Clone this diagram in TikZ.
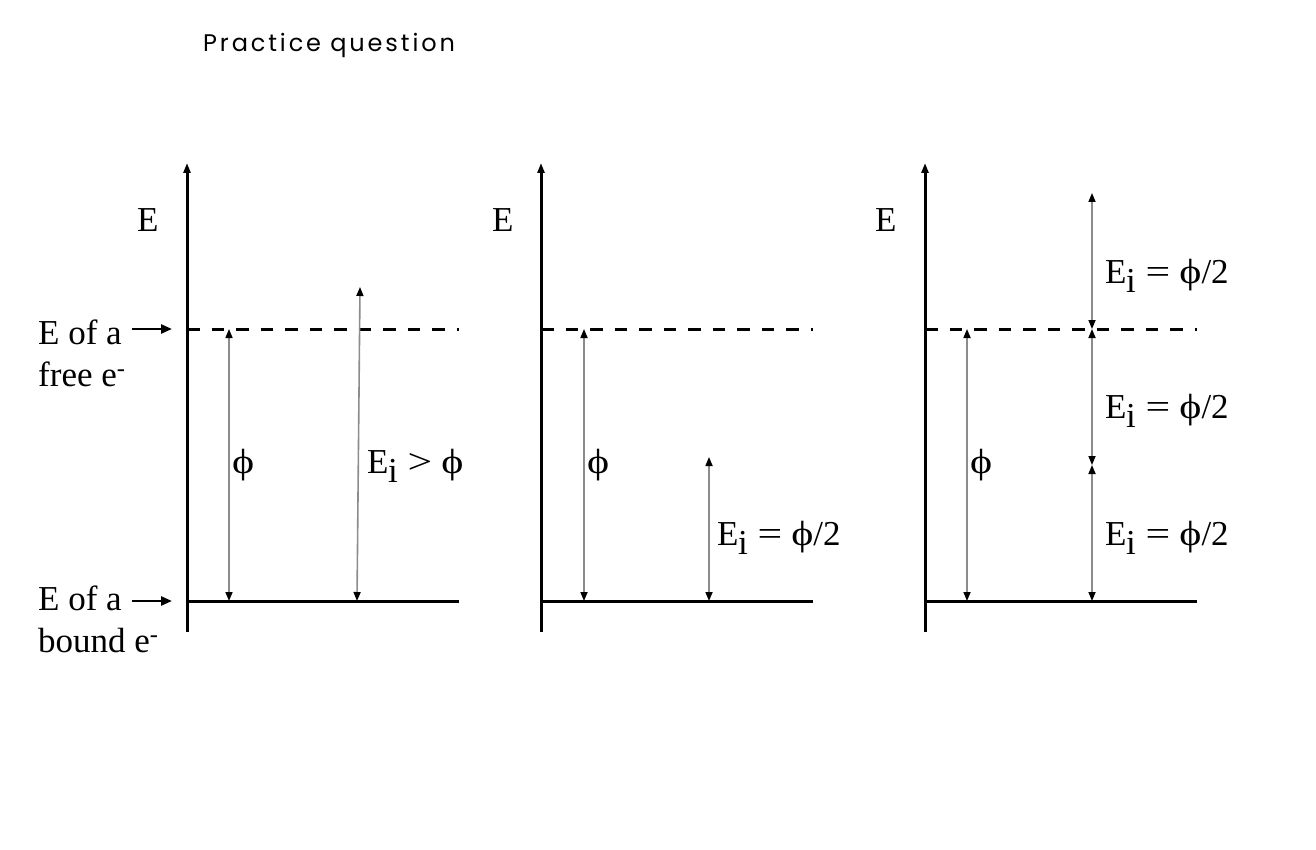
\documentclass[tikz,border=0pt]{standalone}
\usepackage{fontspec}
\setmainfont{Liberation Serif}
\newfontfamily\titlefont{Poppins}[LetterSpace=12]
\usepackage{tikz}
\usetikzlibrary{arrows.meta, positioning, calc}
\definecolor{levelgray}{RGB}{140,140,140}

% symbols as the picture sets them (wide phi, wide relations)
\newcommand{\Ei}{E\kern-0.5pt\raisebox{-0.28em}{i}}
\newcommand{\wphi}{\scalebox{1.2}[1]{ϕ}}
\newcommand{\rel}[1]{\hspace{0.28em}\scalebox{1.25}[1]{#1}\hspace{0.26em}}

\tikzset{
  axisline/.style={line width=3pt, -{Triangle[length=10pt,width=7pt]}},
  boundline/.style={line width=3pt},
  freeline/.style={line width=3pt, dash pattern=on 12.5pt off 12pt},
  gap/.style={levelgray, line width=1.6pt,
    {Triangle[length=9pt,width=7pt,color=black]}-{Triangle[length=9pt,width=7pt,color=black]}},
  pointer/.style={line width=2.5pt, -{Triangle[length=11pt,width=9pt]},
    shorten >=15pt, shorten <=10pt},
  lbl/.style={font=\fontsize{35}{42}\selectfont, inner sep=0pt, anchor=base west},
}

\begin{document}
\begin{tikzpicture}[x=1pt, y=-1pt]
    \useasboundingbox (0,0) rectangle (1316,850);

    % Title
    \node[font=\titlefont\fontsize{24}{28}\selectfont, inner sep=0pt,
          anchor=base west] (title) at (203,52) {Practice question};

    % Axes and the two levels of each panel
    \foreach \x/\n in {187/1, 541/2, 925/3} {
        \coordinate (top\n) at (\x,163);
        \coordinate (bot\n) at (\x,632);
        \coordinate (free\n) at (\x,329);
        \coordinate (bound\n) at (\x,601);
        \draw[axisline] (bot\n) -- (top\n);
        \draw[freeline] (free\n) -- ++(272,0);
        \draw[boundline] (bound\n) -- ++(272,0);
    }

    % Axis labels
    \node[lbl] (E1) at (137,232) {E};
    \node[lbl] (E2) at (492,232) {E};
    \node[lbl] (E3) at (875,232) {E};

    % Level names (left)
    \node[lbl] (freeA) at (38,344) {E of a};
    \node[lbl] (freeB) at (38,386) {free e\textsuperscript{-}};
    \node[lbl] (boundA) at (38,610) {E of a};
    \node[lbl] (boundB) at (38,652) {bound e\textsuperscript{-}};
    \draw[pointer] (freeA.east |- free1) -- (free1);
    \draw[pointer] (boundA.east |- bound1) -- (bound1);

    % --- Panel 1 ---
    \coordinate (phi1lo) at (229,601);
    \coordinate (phi1hi) at (229,329);
    \coordinate (ei1lo) at (357,601);
    \coordinate (ei1hi) at (360,287);
    \draw[gap] (phi1lo) -- (phi1hi);
    \draw[gap] (ei1lo) -- (ei1hi);
    \node[lbl] (phi1) at (232,473) {\wphi};
    \node[lbl] (ei1) at (367,473) {\Ei\rel{>}\wphi};

    % --- Panel 2 ---
    \coordinate (phi2lo) at (584,601);
    \coordinate (phi2hi) at (584,329);
    \coordinate (ei2lo) at (709,601);
    \coordinate (ei2hi) at (709,457);
    \draw[gap] (phi2lo) -- (phi2hi);
    \draw[gap] (ei2lo) -- (ei2hi);
    \node[lbl] (phi2) at (587,473) {\wphi};
    \node[lbl] (ei2) at (717,545) {\Ei\rel{=}\wphi/2};

    % --- Panel 3 ---
    \coordinate (phi3lo) at (967,601);
    \coordinate (phi3hi) at (967,329);
    \coordinate (step3a) at (1092,193);
    \coordinate (step3b) at (1092,329);
    \coordinate (step3c) at (1092,465);
    \coordinate (step3d) at (1092,601);
    \draw[gap] (phi3lo) -- (phi3hi);
    \draw[gap] (step3a) -- (step3b);
    \draw[gap] (step3b) -- (step3c);
    \draw[gap] (step3c) -- (step3d);
    \node[lbl] (phi3) at (970,473) {\wphi};
    \node[lbl] (ei3a) at (1105,283) {\Ei\rel{=}\wphi/2};
    \node[lbl] (ei3b) at (1105,418) {\Ei\rel{=}\wphi/2};
    \node[lbl] (ei3c) at (1105,545) {\Ei\rel{=}\wphi/2};
\end{tikzpicture}
\end{document}
